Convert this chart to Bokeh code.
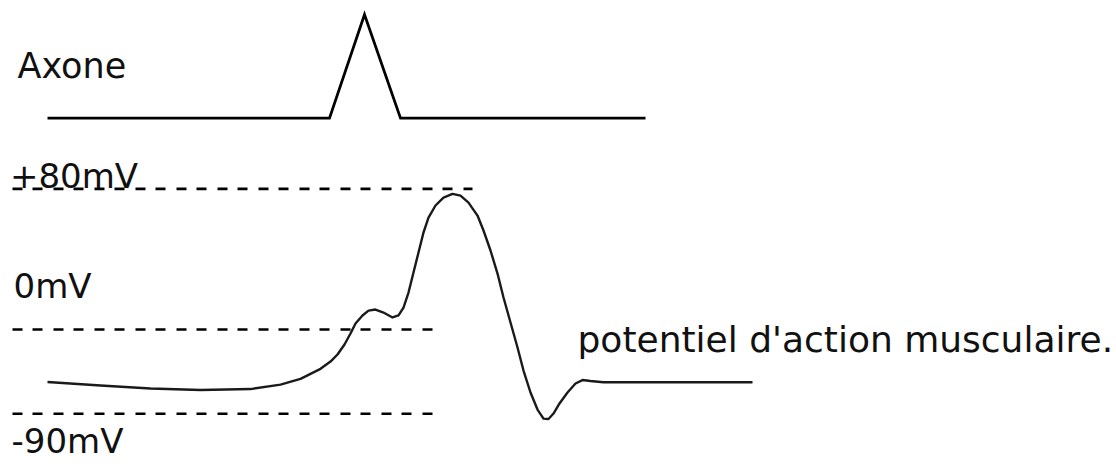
from bokeh.plotting import figure
from bokeh.models import Range1d, ColumnDataSource
from bokeh.core.properties import value
from bokeh.embed import file_html
from bokeh.resources import INLINE

# Axon stimulus trace (arbitrary units, 0 = rest, 1 = spike top)
t_axon = [47, 329, 364, 400, 645]
a_axon = [0, 0, 1, 0, 0]

# Muscle action potential (mV)
t_muscle = [47, 100, 150, 200, 250, 280, 300, 320, 330, 337, 344, 350, 355, 362,
            368, 375, 383, 392, 398, 403, 408, 413, 418, 423, 428, 435, 443, 452,
            460, 468, 477, 483, 490, 497, 503, 510, 517, 523, 530, 537, 543, 548,
            553, 559, 567, 575, 582, 590, 603, 752]
v_muscle = [-66.0, -68.6, -70.9, -72.0, -71.3, -67.9, -63.6, -56.0, -50.5, -45.2,
            -37.6, -29.3, -21.8, -15.7, -12.0, -11.2, -13.5, -17.2, -15.7, -9.7,
            1.6, 16.8, 31.9, 47.0, 58.3, 67.4, 73.4, 76.2, 74.9, 69.6, 59.8, 48.5,
            33.4, 16.0, -2.1, -21.0, -39.9, -57.3, -73.9, -86.8, -93.6, -93.9,
            -89.8, -82.2, -73.9, -67.1, -64.5, -65.2, -66.1, -66.1]

# Dashed reference levels (mV)
ref_levels = [80, -26.3, -90]
ref_start = [12, 12, 12]
ref_end = [472, 432, 432]

# Labels
mv_labels = ["+80mV", "0mV", "-90mV"]
mv_label_x = [9.5, 13, 11]
mv_label_y = [89.8, 6.8, -110.5]
title_label = ["potentiel d'action musculaire."]
title_label_x = [577]
title_label_y = [-33.9]
axon_label = ["Axone"]
axon_label_x = [17]
axon_label_y = [0.505]

p = figure(width=1116, height=464, output_backend="svg", toolbar_location=None,
           x_axis_type=None, y_axis_type=None, min_border=0,
           x_range=Range1d(0, 1116), y_range=Range1d(-128.3, 222.3))
p.extra_y_ranges = {"axon": Range1d(-3.3394, 1.135)}
p.grid.visible = False
p.outline_line_color = None
p.background_fill_color = "white"
p.border_fill_color = "white"

p.segment(x0=ref_start, y0=ref_levels, x1=ref_end, y1=ref_levels,
          line_color="#000000", line_width=2.6, line_dash="10 10 10 11")

p.line(t_axon, a_axon, y_range_name="axon", line_color="#000000",
       line_width=2.8, line_join="miter")

p.line(t_muscle, v_muscle, line_color="#1a1a1a", line_width=2.4,
       line_join="round")

src = ColumnDataSource(dict(x=mv_label_x, y=mv_label_y, t=mv_labels))
p.text(x="x", y="y", text="t", source=src, text_font=value("DejaVu Sans"),
       text_font_size="34px", text_color="#111111", text_baseline="alphabetic")
src3 = ColumnDataSource(dict(x=title_label_x, y=title_label_y, t=title_label))
p.text(x="x", y="y", text="t", source=src3, text_font=value("DejaVu Sans"),
       text_font_size="36px", text_color="#111111", text_baseline="alphabetic")
src2 = ColumnDataSource(dict(x=axon_label_x, y=axon_label_y, t=axon_label))
p.text(x="x", y="y", text="t", source=src2, y_range_name="axon",
       text_font=value("DejaVu Sans"), text_font_size="35px",
       text_color="#111111", text_baseline="alphabetic")

open("out.html", "w").write(file_html(p, INLINE))
